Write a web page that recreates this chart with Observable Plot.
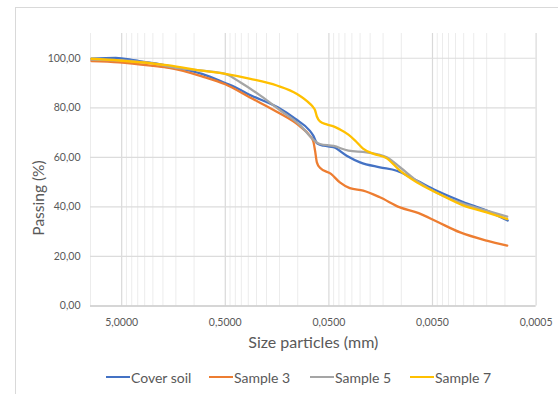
<!DOCTYPE html>
<html><head><meta charset="utf-8">
<script src="https://cdn.jsdelivr.net/npm/d3@7"></script>
<script src="https://cdn.jsdelivr.net/npm/@observablehq/plot@0.6"></script>
<style>
body{margin:0;background:#fff;width:558px;height:394px;overflow:hidden;position:relative;font-family:Lato,"Noto Sans",sans-serif}
#frame{position:absolute;left:15px;top:7px;width:700px;height:500px;border:1px solid #d9d9d9;box-sizing:border-box}
#chart{position:absolute;left:0;top:0}
#ytitle{position:absolute;left:38px;top:198px;transform:translate(-50%,-50%) rotate(-90deg);font-size:15.5px;color:#595959;white-space:nowrap}
#legend{position:absolute;top:368px;left:0;width:558px;height:18px;font-size:14px;color:#595959}
.item{position:absolute;top:0;display:flex;align-items:center;height:18px;white-space:nowrap}
.sw{display:inline-block;width:24px;height:2px;margin-right:1px}
</style></head><body>
<div id="frame"></div>
<div id="chart"></div>
<div id="ytitle"></div>
<div id="legend"></div>
<script>
const seriesNames = ["Cover soil", "Sample 3", "Sample 5", "Sample 7"];
const seriesColors = ["#4472C4", "#ED7D31", "#A5A5A5", "#FFC000"];

const coverSize = [9.8, 5.7, 3.67, 2.46, 1.75, 0.84, 0.5, 0.4, 0.292, 0.156, 0.105, 0.0766, 0.0708, 0.0653, 0.061, 0.0558, 0.0451, 0.0337, 0.025, 0.0161, 0.0111, 0.0071, 0.0046, 0.0025, 0.0015, 0.00094];
const coverPassing = [99.8, 100.2, 99.1, 98.0, 96.8, 93.7, 90.0, 88.3, 85.3, 80.2, 75.5, 70.8, 68.8, 65.7, 65.1, 64.7, 64.1, 60.7, 58.0, 56.0, 54.6, 50.6, 46.6, 41.9, 38.5, 34.5];

const s3Size = [9.8, 5.3, 2.46, 1.75, 0.84, 0.5, 0.292, 0.156, 0.097, 0.0766, 0.0708, 0.068, 0.0653, 0.061, 0.0477, 0.0392, 0.0314, 0.0233, 0.0161, 0.0103, 0.0068, 0.0045, 0.0027, 0.0015, 0.00095];
const s3Passing = [98.9, 98.4, 96.9, 96.1, 92.7, 89.5, 84.3, 78.2, 72.8, 68.8, 66.5, 62.7, 58.0, 55.8, 53.3, 49.9, 47.6, 46.6, 43.9, 39.8, 37.5, 34.0, 29.7, 26.4, 24.4];

const s5Size = [9.8, 5.0, 2.66, 1.42, 0.84, 0.5, 0.359, 0.229, 0.147, 0.094, 0.076, 0.07, 0.061, 0.0451, 0.0324, 0.0217, 0.0138, 0.0103, 0.0071, 0.0043, 0.0025, 0.0015, 0.00095];
const s5Passing = [99.5, 99.1, 98.1, 96.0, 95.0, 93.7, 90.3, 84.9, 78.9, 72.8, 68.5, 67.0, 65.4, 64.6, 62.7, 62.0, 60.0, 56.0, 50.6, 45.2, 41.2, 38.5, 36.1];

const s7Size = [9.8, 5.3, 1.75, 0.84, 0.5, 0.286, 0.159, 0.1016, 0.076, 0.0708, 0.068, 0.0653, 0.061, 0.0525, 0.0451, 0.0392, 0.0324, 0.0275, 0.0234, 0.0185, 0.0138, 0.0103, 0.0071, 0.0043, 0.0025, 0.0015, 0.00095];
const s7Passing = [99.8, 99.1, 97.1, 95.0, 93.7, 91.7, 89.0, 85.6, 81.6, 80.2, 79.0, 76.5, 74.5, 73.3, 72.5, 71.3, 69.2, 66.5, 63.5, 61.4, 59.6, 54.6, 49.9, 45.2, 40.5, 37.8, 35.1];

const xTicks = [5, 0.5, 0.05, 0.005, 0.0005];
const yTicks = [0, 20, 40, 60, 80, 100];
const xTitle = "Size particles (mm)";
const yTitle = "Passing (%)";

const sizes = [coverSize, s3Size, s5Size, s7Size];
const passings = [coverPassing, s3Passing, s5Passing, s7Passing];
const data = [];
seriesNames.forEach((name, i) => sizes[i].forEach((s, j) => data.push({series: name, size: s, passing: passings[i][j]})));

// gridlines: majors at tick values, minors at k*major (k = 2..9) within domain
const minorGrid = [];
xTicks.forEach(t => { for (let k = 2; k <= 9; k++) { const v = t * k; if (v <= 10.0001) minorGrid.push(v); } });

const fmtX = d => d.toFixed(4).replace(".", ",");
const fmtY = d => d.toFixed(2).replace(".", ",");

const chart = Plot.plot({
  width: 558, height: 355,
  marginTop: 33, marginBottom: 49.5, marginLeft: 90, marginRight: 22.4,
  style: {fontFamily: "Lato, 'Noto Sans', sans-serif", fontSize: "10px", color: "#595959", background: "transparent", overflow: "visible"},
  x: {type: "log", domain: [10, 0.0005], axis: null},
  y: {domain: [0, 110], axis: null},
  color: {domain: seriesNames, range: seriesColors},
  marks: [
    Plot.ruleX(minorGrid, {stroke: "#ececec", strokeWidth: 1}),
    Plot.ruleX(xTicks, {stroke: "#d9d9d9", strokeWidth: 1.2}),
    Plot.ruleY(yTicks.filter(d => d > 0), {stroke: "#dcdcdc", strokeWidth: 1.2}),
    Plot.ruleY([0], {stroke: "#c8c8c8", strokeWidth: 1.3}),
    Plot.text(xTicks, {x: d => d, text: fmtX, frameAnchor: "bottom", dy: 20, fill: "#595959", fontSize: 10.5}),
    Plot.text(yTicks, {y: d => d, text: fmtY, frameAnchor: "left", dx: -10, textAnchor: "end", fill: "#595959", fontSize: 10.5}),
    Plot.line(data, {x: "size", y: "passing", stroke: "series", strokeWidth: 2.3, curve: "monotone-x"}),
    Plot.text([xTitle], {frameAnchor: "bottom", dy: 42, fontSize: 16, fill: "#595959"})
  ]
});
document.getElementById("chart").appendChild(chart);
document.getElementById("ytitle").textContent = yTitle;

const legendLeft = [106, 209, 310, 410];
const legend = document.getElementById("legend");
seriesNames.forEach((name, i) => {
  const it = document.createElement("div");
  it.className = "item";
  it.style.left = legendLeft[i] + "px";
  const sw = document.createElement("span");
  sw.className = "sw";
  sw.style.background = seriesColors[i];
  it.appendChild(sw);
  it.appendChild(document.createTextNode(name));
  legend.appendChild(it);
});
</script>
</body></html>
